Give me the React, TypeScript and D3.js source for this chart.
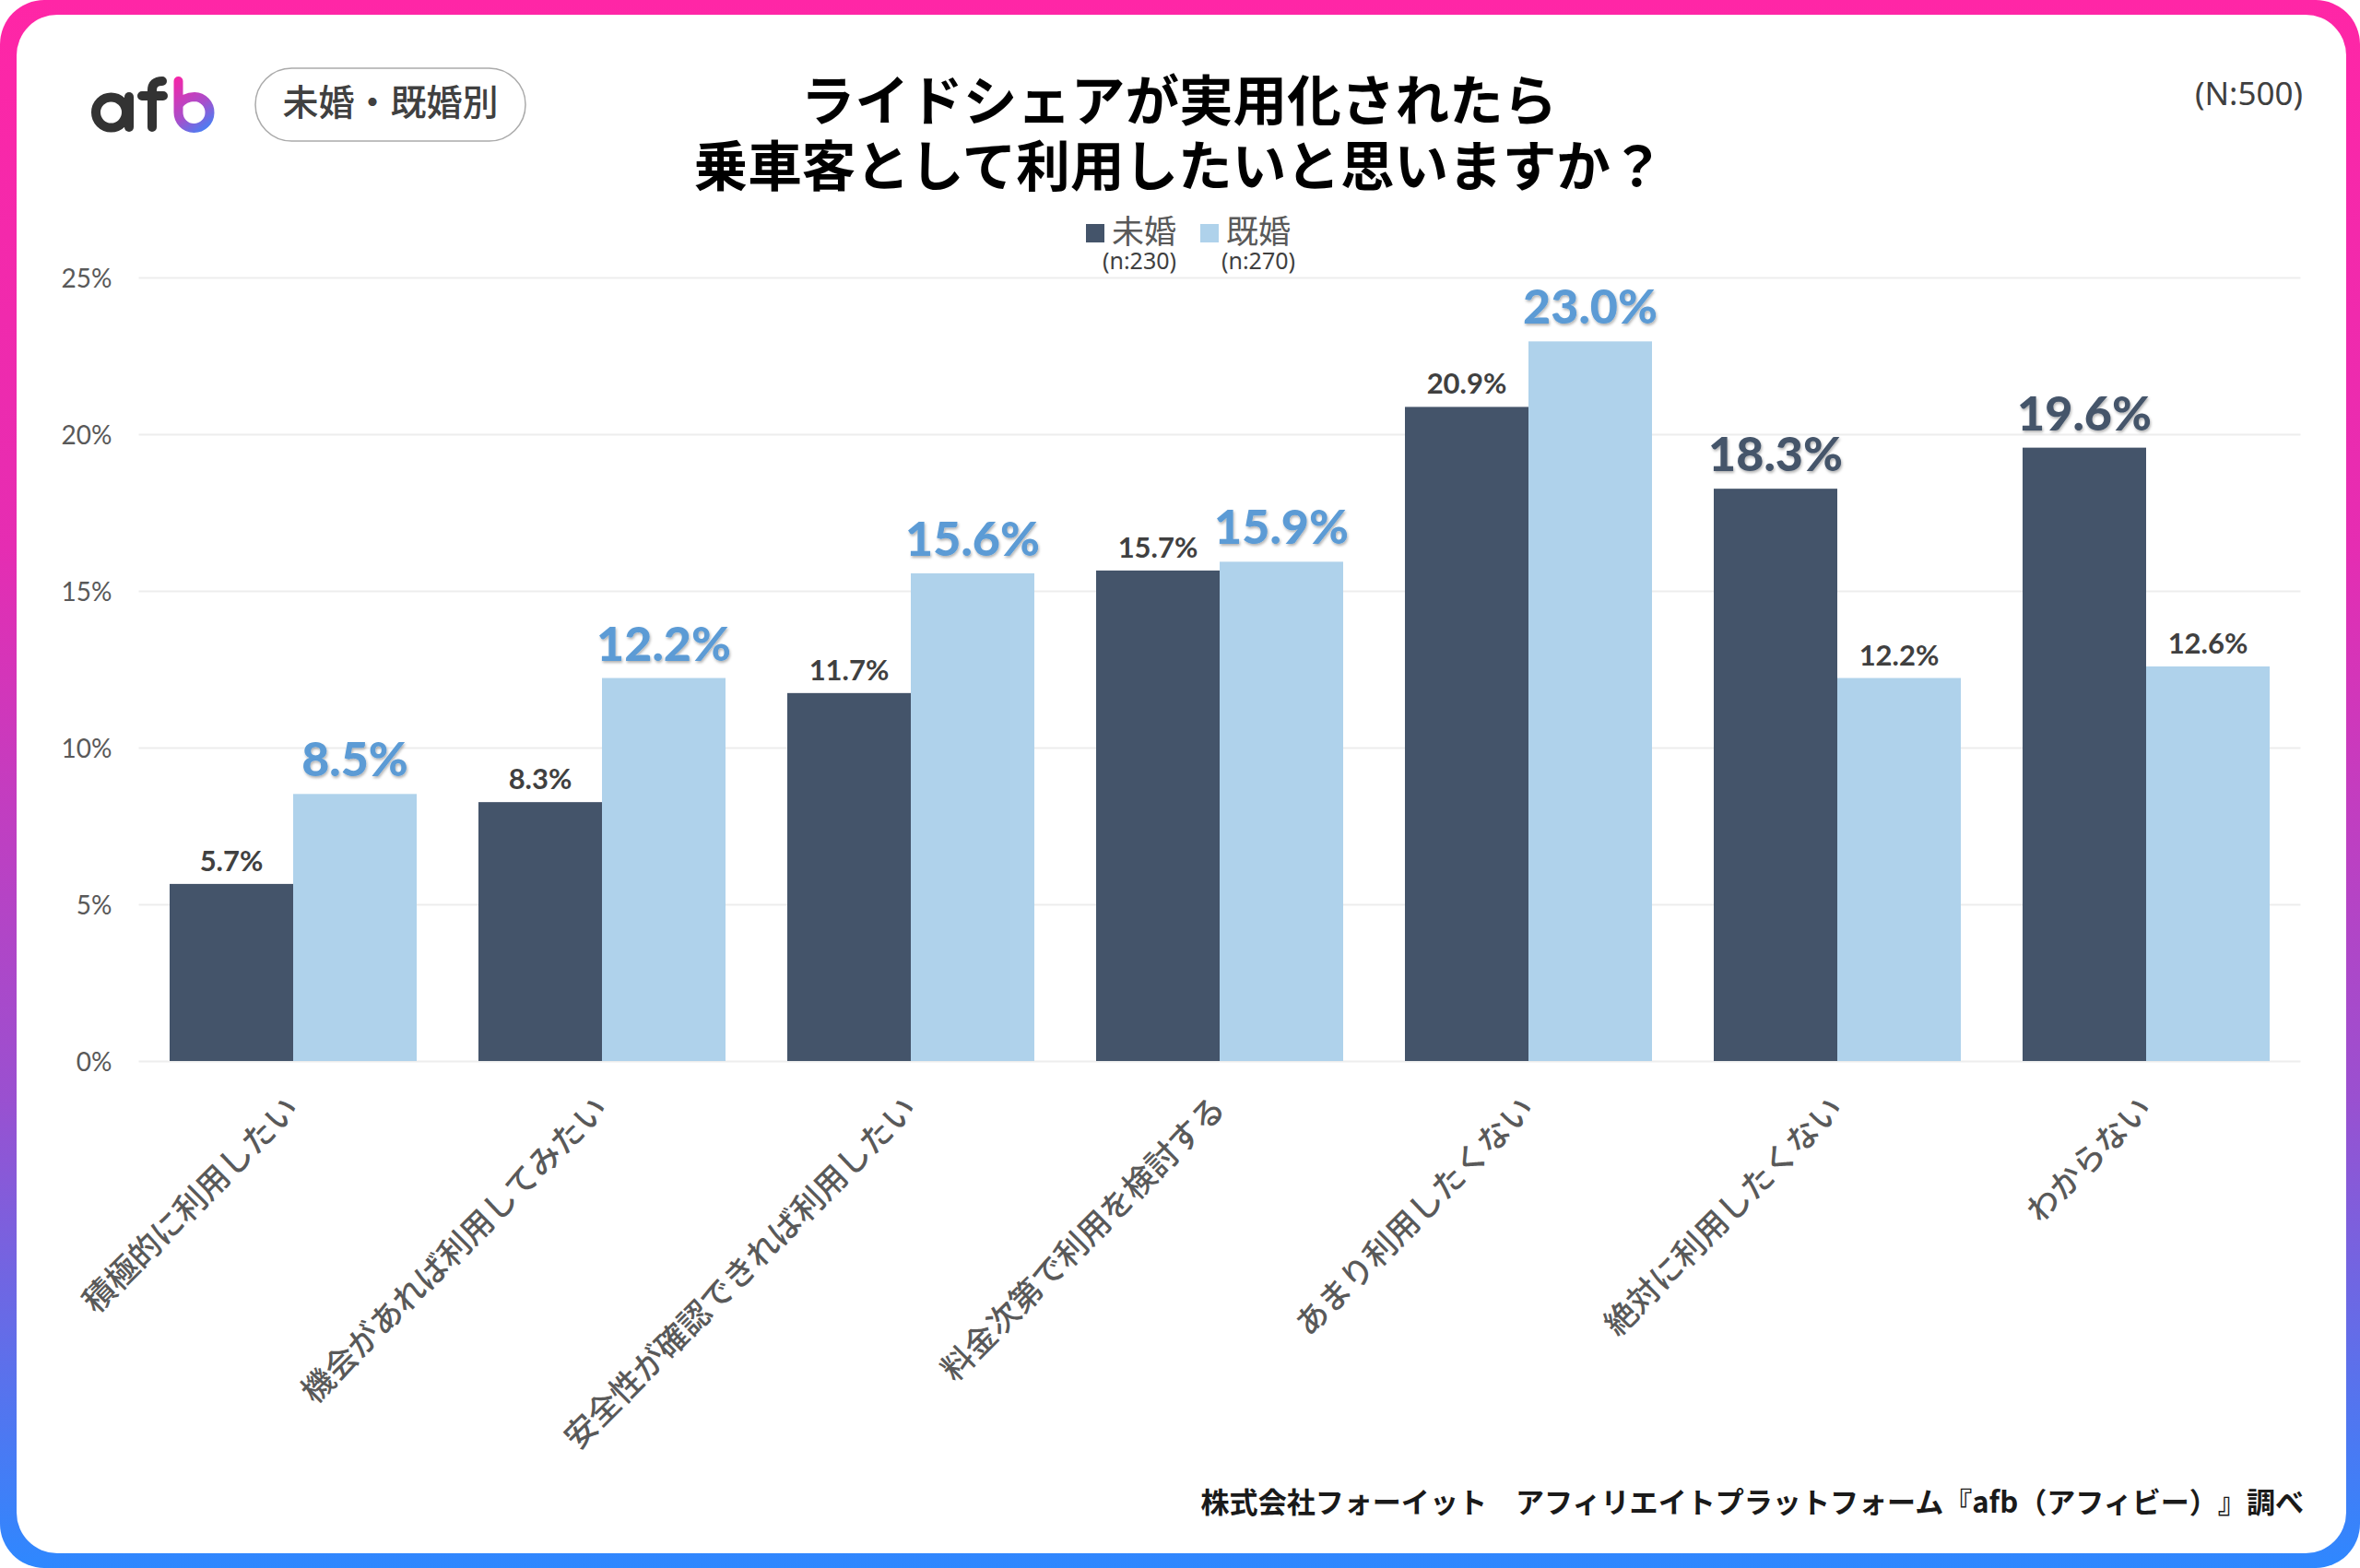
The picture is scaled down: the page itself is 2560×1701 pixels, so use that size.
import React, { useEffect, useRef } from "react";
import * as d3 from "d3";

const categories = [
  "積極的に利用したい",
  "機会があれば利用してみたい",
  "安全性が確認できれば利用したい",
  "料金次第で利用を検討する",
  "あまり利用したくない",
  "絶対に利用したくない",
  "わからない",
];
const seriesNames = ["未婚", "既婚"];
const seriesCounts = ["(n:230)", "(n:270)"];
const unmarried = [5.65, 8.26, 11.74, 15.65, 20.87, 18.26, 19.57];
const married = [8.52, 12.22, 15.56, 15.93, 22.96, 12.22, 12.59];
const yTicks = [0, 5, 10, 15, 20, 25];
const titleLines = [
  "ライドシェアが実用化されたら",
  "乗車客として利用したいと思いますか？",
];

const WIDTH = 2560;
const HEIGHT = 1701;
const LATIN = "Lato, 'Noto Sans CJK JP', sans-serif";
const CJK = "'Noto Sans CJK JP', sans-serif";
const barColors = ["#44546A", "#AFD2EB"];
const bigLabelColors = ["#44546A", "#5B9BD5"];

export default function App() {
  const ref = useRef<SVGSVGElement>(null);

  useEffect(() => {
    const svg = d3.select(ref.current);
    svg.selectAll("*").remove();

    const defs = svg.append("defs");
    const frame = defs
      .append("linearGradient")
      .attr("id", "frame")
      .attr("x1", 0)
      .attr("y1", 0)
      .attr("x2", 0)
      .attr("y2", 1);
    frame.append("stop").attr("offset", "0%").attr("stop-color", "#FF26A6");
    frame.append("stop").attr("offset", "35%").attr("stop-color", "#E52DB2");
    frame.append("stop").attr("offset", "70%").attr("stop-color", "#9A50D0");
    frame.append("stop").attr("offset", "100%").attr("stop-color", "#2E88FF");

    const logoGrad = defs
      .append("linearGradient")
      .attr("id", "logoB")
      .attr("gradientUnits", "userSpaceOnUse")
      .attr("x1", 190)
      .attr("y1", 85)
      .attr("x2", 232)
      .attr("y2", 143);
    logoGrad.append("stop").attr("offset", "0%").attr("stop-color", "#F526A8");
    logoGrad.append("stop").attr("offset", "55%").attr("stop-color", "#A74FCB");
    logoGrad.append("stop").attr("offset", "100%").attr("stop-color", "#2F8CFF");

    const shadow = defs
      .append("filter")
      .attr("id", "labelShadow")
      .attr("x", "-10%")
      .attr("y", "-10%")
      .attr("width", "120%")
      .attr("height", "130%");
    shadow
      .append("feDropShadow")
      .attr("dx", 1)
      .attr("dy", 2)
      .attr("stdDeviation", 1.5)
      .attr("flood-color", "#000")
      .attr("flood-opacity", 0.3);

    // frame
    svg
      .append("rect")
      .attr("width", WIDTH)
      .attr("height", HEIGHT)
      .attr("rx", 48)
      .attr("fill", "url(#frame)");
    svg
      .append("rect")
      .attr("x", 18)
      .attr("y", 16)
      .attr("width", 2527)
      .attr("height", 1669)
      .attr("rx", 44)
      .attr("fill", "#fff");

    // logo
    const logo = svg
      .append("g")
      .attr("fill", "none")
      .attr("stroke-width", 10)
      .attr("stroke-linecap", "round");
    logo.append("title").text("afb");
    logo
      .append("circle")
      .attr("cx", 120.5)
      .attr("cy", 122)
      .attr("r", 16.5)
      .attr("stroke", "#333");
    logo.append("path").attr("d", "M140,105V138").attr("stroke", "#333");
    logo
      .append("path")
      .attr("d", "M165,138V98Q165,88 176,88M154,104H177")
      .attr("stroke", "#333");
    logo
      .append("path")
      .attr("d", "M193.5,88V122A17,17 0 1 0 211,105Q200,105 193.5,114")
      .attr("stroke", "url(#logoB)");

    // badge
    svg
      .append("rect")
      .attr("x", 277)
      .attr("y", 74)
      .attr("width", 293)
      .attr("height", 79)
      .attr("rx", 39.5)
      .attr("fill", "#fff")
      .attr("stroke", "#AAAAAA")
      .attr("stroke-width", 1.5);
    svg
      .append("text")
      .attr("x", 423.5)
      .attr("y", 125)
      .attr("text-anchor", "middle")
      .attr("font-family", CJK)
      .attr("font-weight", 500)
      .attr("font-size", 39)
      .attr("fill", "#404040")
      .text("未婚・既婚別");

    // title
    svg
      .append("text")
      .attr("font-family", CJK)
      .attr("font-weight", 700)
      .attr("font-size", 58.6)
      .attr("fill", "#000")
      .attr("text-anchor", "middle")
      .selectAll("tspan")
      .data(titleLines)
      .join("tspan")
      .attr("x", 1279)
      .attr("y", (_, i) => 131 + i * 70.5)
      .text((d) => d);

    svg
      .append("text")
      .attr("x", 2498)
      .attr("y", 114)
      .attr("text-anchor", "end")
      .attr("font-family", "'Noto Sans', sans-serif")
      .attr("font-size", 35)
      .attr("fill", "#404040")
      .text("(N:500)");

    // legend
    const legendSwatchX = [1178, 1302];
    const legendCountX = [1236, 1365];
    const legend = svg
      .append("g")
      .selectAll("g")
      .data(seriesNames)
      .join("g");
    legend
      .append("rect")
      .attr("x", (_, i) => legendSwatchX[i])
      .attr("y", 243)
      .attr("width", 20)
      .attr("height", 20)
      .attr("fill", (_, i) => barColors[i]);
    const legendText = legend.append("text");
    legendText
      .append("tspan")
      .attr("x", (_, i) => legendSwatchX[i] + 28)
      .attr("y", 264)
      .attr("font-family", CJK)
      .attr("font-size", 35)
      .attr("fill", "#595959")
      .text((d) => d);
    legendText
      .append("tspan")
      .attr("x", (_, i) => legendCountX[i])
      .attr("y", 292)
      .attr("text-anchor", "middle")
      .attr("font-family", "'Noto Sans', sans-serif")
      .attr("font-size", 25)
      .attr("fill", "#404040")
      .text((_, i) => seriesCounts[i]);

    // scales
    const x = d3
      .scaleBand<string>()
      .domain(categories)
      .range([150.5, 2495.5])
      .paddingInner(0.2)
      .paddingOuter(0.1);
    const x1 = d3
      .scaleBand<number>()
      .domain([0, 1])
      .range([0, x.bandwidth()]);
    const y = d3.scaleLinear().domain([0, 25]).range([1151, 301]);

    // gridlines + y labels
    const yAxis = svg
      .append("g")
      .attr("transform", "translate(150.5,0)")
      .call(
        d3
          .axisLeft(y)
          .tickValues(yTicks)
          .tickSize(-2345)
          .tickPadding(29)
          .tickFormat((d) => `${d}%`)
      );
    yAxis.select(".domain").remove();
    yAxis.selectAll(".tick line").attr("stroke", "#EDEDED").attr("stroke-width", 2);
    yAxis
      .selectAll(".tick text")
      .attr("font-family", LATIN)
      .attr("font-size", 28)
      .attr("fill", "#595959")
      .attr("y", 1.5);

    // bars
    const groups = svg
      .append("g")
      .selectAll("g")
      .data(categories)
      .join("g")
      .attr("transform", (d) => `translate(${x(d)},0)`);

    [unmarried, married].forEach((values, s) => {
      groups
        .append("rect")
        .attr("x", x1(s) ?? 0)
        .attr("y", (_, i) => y(values[i]))
        .attr("width", x1.bandwidth())
        .attr("height", (_, i) => y(0) - y(values[i]))
        .attr("fill", barColors[s]);

      const other = s === 0 ? married : unmarried;
      const isBig = (i: number) => values[i] > other[i];
      groups
        .append("text")
        .attr("x", (x1(s) ?? 0) + x1.bandwidth() / 2)
        .attr("y", (_, i) => y(values[i]) - (isBig(i) ? 19 : 14))
        .attr("text-anchor", "middle")
        .attr("font-family", LATIN)
        .attr("font-weight", (_, i) => (isBig(i) ? 900 : 700))
        .attr("font-size", (_, i) => (isBig(i) ? 52 : 31))
        .attr("fill", (_, i) => (isBig(i) ? bigLabelColors[s] : "#404040"))
        .attr("filter", (_, i) => (isBig(i) ? "url(#labelShadow)" : null))
        .text((_, i) => `${values[i].toFixed(1)}%`);
    });

    // x labels
    const xAxis = svg
      .append("g")
      .attr("transform", "translate(0,1151)")
      .call(d3.axisBottom(x).tickSize(0).tickPadding(0));
    xAxis.select(".domain").remove();
    xAxis
      .selectAll<SVGTextElement, string>(".tick text")
      .attr("font-family", CJK)
      .attr("font-weight", 500)
      .attr("font-size", 34.8)
      .attr("fill", "#595959")
      .attr("text-anchor", "end")
      .attr("dy", 0)
      .attr("y", 0)
      .attr("transform", "translate(8,54) rotate(-45)");

    // source
    svg
      .append("text")
      .attr("x", 2499)
      .attr("y", 1641)
      .attr("text-anchor", "end")
      .attr("font-family", CJK)
      .attr("font-weight", 700)
      .attr("font-size", 31.05)
      .attr("fill", "#1A1A1A")
      .style("text-spacing-trim", "space-all")
      .text("株式会社フォーイット　アフィリエイトプラットフォーム『afb（アフィビー）』調べ");
  }, []);

  return (
    <svg
      ref={ref}
      width={WIDTH}
      height={HEIGHT}
      viewBox={`0 0 ${WIDTH} ${HEIGHT}`}
      style={{ position: "absolute", left: 0, top: 0, display: "block" }}
    />
  );
}
